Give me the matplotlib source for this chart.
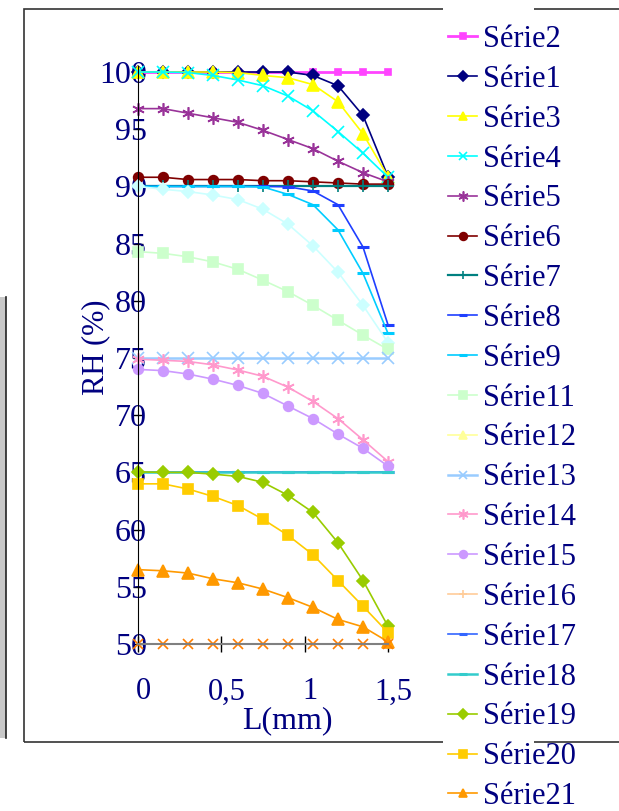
import matplotlib
matplotlib.use("Agg")
import matplotlib.pyplot as plt
from matplotlib.patches import Rectangle
from matplotlib.transforms import ScaledTranslation

plt.rcParams['font.family'] = ['Liberation Serif', 'DejaVu Serif']

# thickness positions along the sample (mm)
x_mm = [0, 0.15, 0.3, 0.45, 0.6, 0.75, 0.9, 1.05, 1.2, 1.35, 1.5]

s1 = [100, 100, 100, 100, 100, 100, 100, 99.7, 98.8, 96.2, 90.85]
s2 = [100, 100, 100, 100, 100, 100, 100, 100, 100, 100, 100]
s3 = [100, 100, 100, 100, 99.95, 99.7, 99.5, 98.9, 97.4, 94.6, 90.85]
s4 = [100, 100, 99.95, 99.7, 99.3, 98.8, 97.9, 96.6, 94.8, 92.9, 90.8]
s5 = [96.8, 96.8, 96.4, 96.0, 95.6, 94.9, 94.1, 93.3, 92.2, 91.2, 90.4]
s6 = [90.8, 90.8, 90.6, 90.6, 90.6, 90.5, 90.5, 90.4, 90.3, 90.2, 90.2]
s7 = [90, 90, 90, 90, 90, 90, 90, 90, 90, 90, 90]
s8 = [90, 90, 90, 90, 90, 90, 89.97, 89.6, 88.4, 84.7, 77.9]
s9 = [90, 90, 90, 90, 90, 89.95, 89.3, 88.4, 86.2, 82.4, 77.15]
s10 = [90, 89.75, 89.55, 89.25, 88.85, 88.0, 86.7, 84.8, 82.5, 79.6, 76.35]
s11 = [84.3, 84.15, 83.85, 83.4, 82.75, 81.8, 80.8, 79.6, 78.3, 77.0, 75.75]
s12 = []  # nothing visible in the chart
s13 = [75, 75, 75, 75, 75, 75, 75, 75, 75, 75, 75]
s14 = [74.9, 74.8, 74.7, 74.4, 73.95, 73.4, 72.45, 71.2, 69.7, 67.85, 65.95]
s15 = [74.0, 73.9, 73.6, 73.15, 72.6, 71.9, 70.8, 69.7, 68.35, 67.1, 65.55]
s16 = []  # nothing visible in the chart
s17 = [65, 65, 65, 65, 65, 65, 65, 65, 65, 65, 65]
s18 = [65, 65, 65, 65, 65, 65, 65, 65, 65, 65, 65]
s19 = [65.05, 65, 65, 64.85, 64.65, 64.13, 63.0, 61.5, 58.85, 55.55, 51.55]
s20 = [64, 64, 63.55, 62.9, 62.1, 60.9, 59.5, 57.8, 55.55, 53.3, 51]
s21 = [56.5, 56.4, 56.2, 55.7, 55.35, 54.8, 54.05, 53.2, 52.15, 51.5, 50.2]
s22 = [50, 50, 50, 50, 50, 50, 50, 50, 50, 50, 50]

x_ticks = [0, 0.5, 1, 1.5]
x_tick_labels = ['0', '0,5', '1', '1,5']
y_ticks = [50, 55, 60, 65, 70, 75, 80, 85, 90, 95, 100]

navy = '#000080'
star = (6, 2, 0)

# (label, values, colour, marker, markersize, linewidth)
series = [
    ('Série2', s2, '#FF44FF', 's', 5, 2.0),
    ('Série1', s1, '#000080', 'D', 6, 1.2),
    ('Série3', s3, '#FFFF00', '^', 8, 1.2),
    ('Série4', s4, '#00FFFF', 'x', 8, 1.2),
    ('Série5', s5, '#993399', star, 9, 1.2),
    ('Série6', s6, '#800000', 'o', 7, 1.2),
    ('Série7', s7, '#008080', '+', 8, 1.6),
    ('Série8', s8, '#1F3FFF', '_', 8, 1.2),
    ('Série9', s9, '#00CCFF', '_', 8, 1.2),
    ('_nolegend_', s10, '#CCFFFF', 'D', 6, 1.2),
    ('Série11', s11, '#CCFFCC', 's', 7, 1.2),
    ('Série12', s12, '#FFFF99', '^', 8, 1.2),
    ('Série13', s13, '#99CCFF', 'x', 8, 1.8),
    ('Série14', s14, '#FF99CC', star, 9, 1.2),
    ('Série15', s15, '#CC99FF', 'o', 7, 1.2),
    ('Série16', s16, '#FFCC99', '+', 8, 1.2),
    ('Série17', s17, '#3366FF', '_', 8, 1.2),
    ('Série18', s18, '#33CCCC', '_', 8, 1.8),
    ('Série19', s19, '#99CC00', 'D', 6, 1.2),
    ('Série20', s20, '#FFCC00', 's', 7, 1.2),
    ('Série21', s21, '#FF9900', '^', 8, 1.2),
    ('_nolegend_', s22, '#FF7F00', 'x', 7, 1.2),
]

fig = plt.figure(figsize=(6.19, 8.11), dpi=100)
W, H = 619.0, 811.0

# plot area in pixel terms: x 138..388, y 644 (50) .. 66.3 (100.5)
ax = fig.add_axes([138 / W, 1 - 644 / H, 250 / W, (644 - 66.3) / H])
ax.set_xlim(0, 1.5)
ax.set_ylim(50, 100.5)

handles = []
for name, vals, col, mk, ms, lw in series:
    mew = 2.2 if mk == '_' else 1.2
    ln, = ax.plot(x_mm[:len(vals)], vals, color=col, lw=lw, marker=mk, ms=ms,
                  mfc=col, mec=col, mew=mew, clip_on=False, label=name)
    if not name.startswith('_'):
        handles.append(ln)

ax.spines['top'].set_visible(False)
ax.spines['right'].set_visible(False)
ax.spines['left'].set_color('black')
ax.spines['bottom'].set_color('#808080')
ax.spines['bottom'].set_linewidth(1.5)

ax.set_yticks(y_ticks)
ax.set_xticks(x_ticks)
ax.set_xticklabels(x_tick_labels)
ax.tick_params(axis='y', direction='inout', length=7.2, width=1, color='black',
               labelsize=23, labelcolor=navy, pad=-10)
ax.tick_params(axis='x', direction='inout', length=12, width=1, color='black',
               labelsize=22, labelcolor=navy, pad=18)
shift = ScaledTranslation(5 / 100, 0, fig.dpi_scale_trans)
for lab in ax.get_xticklabels():
    lab.set_transform(lab.get_transform() + shift)

ax.set_xlabel('L(mm)', fontsize=23, color=navy)
ax.xaxis.set_label_coords(0.598, -0.108)
ax.set_ylabel('RH (%)', fontsize=22, color=navy)
ax.yaxis.set_label_coords(-0.112, 0.514)

# outer chart frame (runs off the right edge)
fig.patches.append(Rectangle((24 / W, 1 - 742 / H), 1.0, (742 - 9) / H,
                             transform=fig.transFigure, fill=False,
                             edgecolor='#333333', lw=1.2, zorder=1))
# white strip behind the legend
fig.patches.append(Rectangle((443 / W, 0), (534 - 443) / W, 1,
                             transform=fig.transFigure, facecolor='white',
                             edgecolor='none', zorder=2))
# grey edge of a neighbouring frame on the far left
fig.patches.append(Rectangle((0, 1 - 738 / H), 6 / W, (738 - 297) / H,
                             transform=fig.transFigure, facecolor='#c8c8c8',
                             edgecolor='none', zorder=1))
fig.add_artist(plt.Line2D([5.5 / W, 5.5 / W], [1 - 738 / H, 1 - 297 / H],
                          transform=fig.transFigure, color='#222222', lw=1.2))

leg = fig.legend(handles=handles, loc='upper left',
                 bbox_to_anchor=(448 / W, 1 - 25 / H), frameon=False,
                 fontsize=22, labelcolor=navy, handlelength=0.95,
                 handletextpad=0.2, labelspacing=0.355, borderpad=0,
                 borderaxespad=0, markerscale=0.8)
leg.set_zorder(5)

fig.savefig('out.png', dpi=100)
